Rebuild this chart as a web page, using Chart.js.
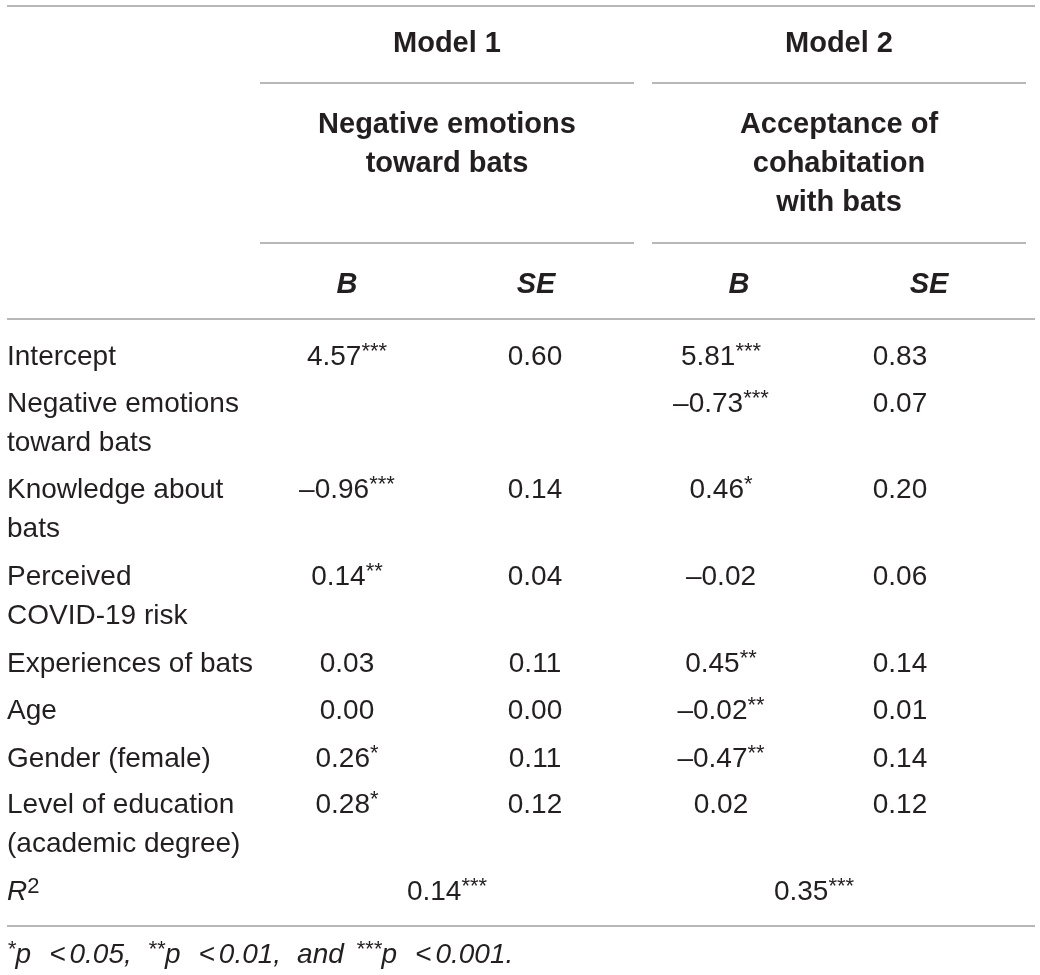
<!DOCTYPE html>
<html>
<head>
<meta charset="utf-8">
<script src="https://cdn.jsdelivr.net/npm/chart.js@4.4.1/dist/chart.umd.min.js"></script>
<style>
    html, body { margin: 0; padding: 0; background: #fff; }
    #wrap { width: 1040px; height: 975px; position: relative; }
</style>
</head>
<body>
<div id="wrap"><canvas id="tableChart"></canvas></div>
<script>
// Table content
const rowLabels = [
    ['Intercept'],
    ['Negative emotions', 'toward bats'],
    ['Knowledge about', 'bats'],
    ['Perceived', 'COVID-19 risk'],
    ['Experiences of bats'],
    ['Age'],
    ['Gender (female)'],
    ['Level of education', '(academic degree)']
];
const model1B = ['4.57', '', '–0.96', '0.14', '0.03', '0.00', '0.26', '0.28'];
const model1BSig = ['***', '', '***', '**', '', '', '*', '*'];
const model1SE = ['0.60', '', '0.14', '0.04', '0.11', '0.00', '0.11', '0.12'];
const model2B = ['5.81', '–0.73', '0.46', '–0.02', '0.45', '–0.02', '–0.47', '0.02'];
const model2BSig = ['***', '***', '*', '', '**', '**', '**', ''];
const model2SE = ['0.83', '0.07', '0.20', '0.06', '0.14', '0.01', '0.14', '0.12'];
const rSquared = ['0.14', '0.35'];
const rSquaredSig = ['***', '***'];
const modelNames = ['Model 1', 'Model 2'];
const outcomeNames = [['Negative emotions', 'toward bats'], ['Acceptance of', 'cohabitation', 'with bats']];
const statNames = ['B', 'SE', 'B', 'SE'];
const noteLevels = ['*', '**', '***'];
const noteCuts = ['0.05,', '0.01,', '0.001.'];

document.addEventListener("DOMContentLoaded", function() {
    const ink = '#231f20';
    const rule = '#a0a0a0';
    const family = '"Liberation Sans", Arial, Helvetica, sans-serif';
    const bodySize = 28;
    const headSize = 29;

    // layout in table units (x: 0..1040, y: 0..975 top down)
    const L = {
        left: 7, right: 1035,
        m1: [260, 634], m2: [652, 1026],
        headCols: [347, 536, 739, 929],
        valCols: [347, 535, 721, 900],
        rCols: [447, 814],
        rowBase: [365, 412, 498, 585, 672, 719, 767, 813],
        lineStep: 39,
        rY: 900,
        rules: { top: 6, mid1: 83, mid2: 243, head: 319, bottom: 926 },
        modelY: 52, outcomeY: 133, statY: 293, noteY: 963
    };

    function font(size, bold, italic) {
        return (italic ? 'italic ' : '') + (bold ? 'bold ' : '') + size + 'px ' + family;
    }

    // segments: [{t, sup, bold, italic}] or {gap}
    function drawRich(ctx, segs, x, y, align, size) {
        const supSize = Math.round(size * 0.78);
        let total = 0;
        const widths = segs.map(s => {
            if (s.gap !== undefined) { total += s.gap; return s.gap; }
            ctx.font = font(s.sup ? supSize : size, s.bold, s.italic);
            const w = ctx.measureText(s.t).width;
            total += w;
            return w;
        });
        let cx = align === 'center' ? x - total / 2 : x;
        segs.forEach((s, i) => {
            if (s.gap === undefined) {
                ctx.font = font(s.sup ? supSize : size, s.bold, s.italic);
                ctx.textAlign = 'left';
                ctx.textBaseline = 'alphabetic';
                ctx.fillText(s.t, cx, s.sup ? y - size * 0.26 : y);
            }
            cx += widths[i];
        });
    }

    const tablePlugin = {
        id: 'tablePlugin',
        afterDraw(chart) {
            const ctx = chart.ctx;
            const sx = v => chart.scales.x.getPixelForValue(v);
            const sy = v => chart.scales.y.getPixelForValue(v);
            ctx.save();

            // rules
            ctx.strokeStyle = rule;
            ctx.lineWidth = 1.5;
            const hline = (x0, x1, y) => {
                ctx.beginPath();
                ctx.moveTo(sx(x0), sy(y));
                ctx.lineTo(sx(x1), sy(y));
                ctx.stroke();
            };
            hline(L.left, L.right, L.rules.top);
            hline(L.m1[0], L.m1[1], L.rules.mid1);
            hline(L.m2[0], L.m2[1], L.rules.mid1);
            hline(L.m1[0], L.m1[1], L.rules.mid2);
            hline(L.m2[0], L.m2[1], L.rules.mid2);
            hline(L.left, L.right, L.rules.head);
            hline(L.left, L.right, L.rules.bottom);

            ctx.fillStyle = ink;

            // header
            const spans = [L.m1, L.m2];
            modelNames.forEach((name, i) => {
                const cx = (spans[i][0] + spans[i][1]) / 2;
                drawRich(ctx, [{ t: name, bold: true }], sx(cx), sy(L.modelY), 'center', headSize);
                outcomeNames[i].forEach((line, j) => {
                    drawRich(ctx, [{ t: line, bold: true }], sx(cx), sy(L.outcomeY + j * L.lineStep), 'center', headSize);
                });
            });
            statNames.forEach((s, i) => {
                drawRich(ctx, [{ t: s, bold: true, italic: true }], sx(L.headCols[i]), sy(L.statY), 'center', headSize);
            });

            // body
            const cols = [
                [model1B, model1BSig],
                [model1SE, null],
                [model2B, model2BSig],
                [model2SE, null]
            ];
            rowLabels.forEach((lines, r) => {
                lines.forEach((line, j) => {
                    drawRich(ctx, [{ t: line }], sx(L.left), sy(L.rowBase[r] + j * L.lineStep), 'left', bodySize);
                });
                cols.forEach((c, k) => {
                    const v = c[0][r];
                    if (!v) return;
                    const segs = [{ t: v }];
                    if (c[1] && c[1][r]) segs.push({ t: c[1][r], sup: true });
                    drawRich(ctx, segs, sx(L.valCols[k]), sy(L.rowBase[r]), 'center', bodySize);
                });
            });

            // R squared
            drawRich(ctx, [{ t: 'R', italic: true }, { t: '2', sup: true }], sx(L.left), sy(L.rY), 'left', bodySize);
            rSquared.forEach((v, i) => {
                drawRich(ctx, [{ t: v }, { t: rSquaredSig[i], sup: true }], sx(L.rCols[i]), sy(L.rY), 'center', bodySize);
            });

            // footnote
            const note = [];
            noteLevels.forEach((lv, i) => {
                if (i === 2) note.push({ t: 'and', italic: true }, { gap: 12 });
                note.push({ t: lv, sup: true, italic: true }, { t: 'p', italic: true }, { gap: 18 },
                    { t: '<', italic: true }, { gap: 4 }, { t: noteCuts[i], italic: true }, { gap: 16 });
            });
            drawRich(ctx, note, sx(L.left), sy(L.noteY), 'left', bodySize);

            ctx.restore();
        }
    };

    new Chart(document.getElementById('tableChart').getContext('2d'), {
        type: 'scatter',
        data: { datasets: [] },
        options: {
            responsive: true,
            maintainAspectRatio: false,
            animation: false,
            layout: { padding: 0 },
            plugins: { legend: { display: false }, tooltip: { enabled: false } },
            scales: {
                x: { type: 'linear', display: false, min: 0, max: 1040 },
                y: { type: 'linear', display: false, min: 0, max: 975, reverse: true }
            }
        },
        plugins: [tablePlugin]
    });
});
</script>
</body>
</html>
